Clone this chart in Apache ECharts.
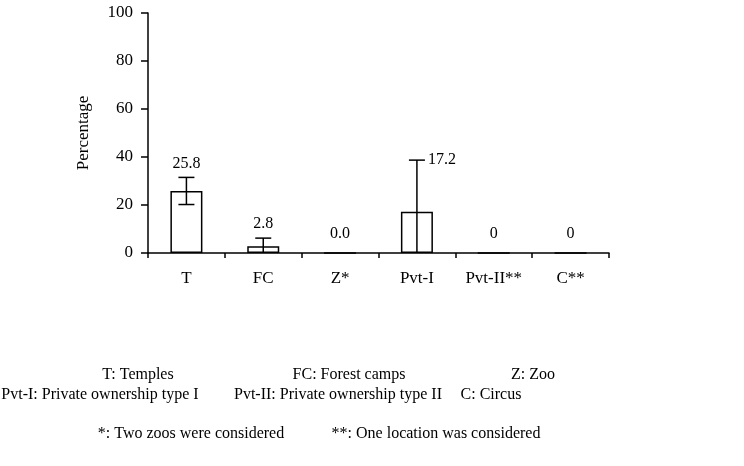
<!DOCTYPE html>
<html><head><meta charset="utf-8">
<script src="https://cdn.jsdelivr.net/npm/echarts@6/dist/echarts.min.js"></script>
<style>html,body{margin:0;padding:0;background:#fff}#c{width:744px;height:466px}</style>
</head><body><div id="c"></div>
<script>
const categories = ['T', 'FC', 'Z*', 'Pvt-I', 'Pvt-II**', 'C**'];
const values = [25.8, 2.8, 0, 17.2, 0, 0];
const labels = ['25.8', '2.8', '0.0', '17.2', '0', '0'];
const errLow = [20.2, 0, null, 0, null, null];
const errHigh = [31.5, 6.2, null, 38.7, null, null];
const yTicks = [0, 20, 40, 60, 80, 100];
const footRow1 = ['T: Temples', 'FC: Forest camps', 'Z: Zoo'];
const footRow2 = ['Pvt-I: Private ownership type I', 'Pvt-II: Private ownership type II', 'C: Circus'];
const footRow3 = ['*: Two zoos were considered', '**: One location was considered'];

const FONT = '"Liberation Serif", "Times New Roman", serif';
const chart = echarts.init(document.getElementById('c'), null, {renderer: 'canvas'});

const customData = categories.map((c, i) => [i, values[i]]);

function renderErr(params, api) {
  const i = api.value(0);
  const v = api.value(1);
  const lo = errLow[i], hi = errHigh[i];
  const children = [];
  const x = api.coord([i, 0])[0];
  const cap = 8;
  let topY;
  if (hi != null) {
    const pHi = api.coord([i, hi]);
    const pLo = api.coord([i, lo]);
    topY = pHi[1];
    children.push({type: 'line', shape: {x1: x, y1: pHi[1], x2: x, y2: pLo[1]}, style: {stroke: '#000', lineWidth: 1.5}});
    children.push({type: 'line', shape: {x1: x - cap, y1: pHi[1], x2: x + cap, y2: pHi[1]}, style: {stroke: '#000', lineWidth: 1.5}});
    if (lo > 0) children.push({type: 'line', shape: {x1: x - cap, y1: pLo[1], x2: x + cap, y2: pLo[1]}, style: {stroke: '#000', lineWidth: 1.5}});
  } else {
    topY = api.coord([i, v])[1];
  }
  const txt = labels[i];
  if (i === 3) {
    children.push({type: 'text', style: {text: txt, x: x + cap + 3, y: topY, textAlign: 'left', textVerticalAlign: 'middle', font: '16px ' + FONT, fill: '#000'}});
  } else {
    children.push({type: 'text', style: {text: txt, x: x, y: topY - (hi != null ? 6 : 11), textAlign: 'center', textVerticalAlign: 'bottom', font: '16px ' + FONT, fill: '#000'}});
  }
  return {type: 'group', children};
}

const footGraphics = [];
const row1X = [138, 349, 533];
const row2X = [100, 338, 491];
const row3X = [191, 436];
const addRow = (arr, xs, y) => arr.forEach((t, k) => footGraphics.push({
  type: 'text', x: xs[k], y: y,
  style: {text: t, textAlign: 'center', textVerticalAlign: 'middle', font: '16px ' + FONT, fill: '#000'}
}));
addRow(footRow1, row1X, 375);
addRow(footRow2, row2X, 395);
addRow(footRow3, row3X, 434);

chart.setOption({
  animation: false,
  backgroundColor: '#fff',
  grid: {left: 148, right: 135, top: 13, bottom: 213, containLabel: false},
  xAxis: {
    type: 'category', data: categories,
    axisLine: {lineStyle: {color: '#000', width: 1.5}},
    axisTick: {show: true, alignWithLabel: false, length: 5, lineStyle: {color: '#000', width: 1.5}},
    axisLabel: {color: '#000', fontFamily: FONT, fontSize: 17, margin: 17, interval: 0}
  },
  yAxis: {
    type: 'value', min: 0, max: 100, interval: 20,
    name: 'Percentage', nameLocation: 'middle', nameGap: 56, nameRotate: 90,
    nameTextStyle: {color: '#000', fontFamily: FONT, fontSize: 17},
    axisLine: {show: true, lineStyle: {color: '#000', width: 1.5}},
    axisTick: {show: true, length: 7, lineStyle: {color: '#000', width: 1.5}},
    axisLabel: {color: '#000', fontFamily: FONT, fontSize: 17, margin: 15},
    splitLine: {show: false}
  },
  series: [
    {type: 'bar', data: values, barWidth: 32, itemStyle: {color: '#fff', borderColor: '#000', borderWidth: 1.5}, z: 2},
    {type: 'custom', data: customData, renderItem: renderErr, z: 3, encode: {x: 0, y: 1}}
  ],
  graphic: footGraphics
});
</script></body></html>
